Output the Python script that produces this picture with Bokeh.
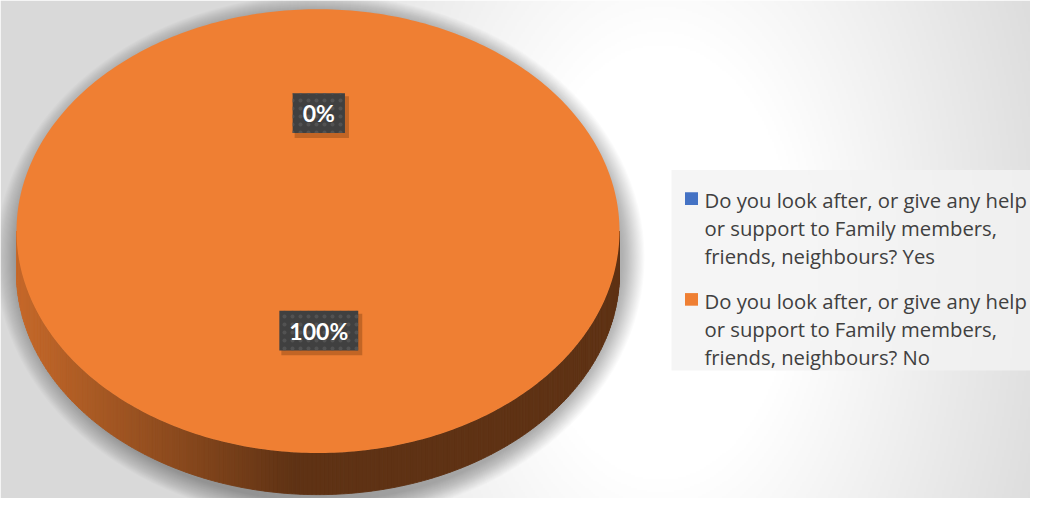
import numpy as np
from bokeh.plotting import figure
from bokeh.models import Range1d, ColumnDataSource
from bokeh.core.properties import value
from bokeh.embed import file_html
from bokeh.resources import INLINE

# ---------------- data ----------------
categories = [
    "Do you look after, or give any help\nor support to Family members,\nfriends, neighbours? Yes",
    "Do you look after, or give any help\nor support to Family members,\nfriends, neighbours? No",
]
values = [0, 100]
colors = ["#4472C4", "#EF7F33"]
pct_labels = ["0%", "100%"]

# ---------------- layout (reference pixel space, y down) ----------------
W, H = 1030, 514
def fy(y):
    return H - np.asarray(y, dtype=float)

CX, CY, RX, RY, DEPTH = 317.5, 238.0, 301.5, 229.0, 43.0

p = figure(width=1030, height=498, x_range=Range1d(0, W), y_range=Range1d(0, H),
           output_backend="svg", toolbar_location=None, min_border=0,
           x_axis_location=None, y_axis_location=None)
p.grid.visible = False
p.outline_line_color = None
p.background_fill_color = "white"
p.border_fill_color = "white"

# background radial gradient
nx, ny = 515, 257
xs = (np.arange(nx) + 0.5) * W / nx
ys_data = (np.arange(ny) + 0.5) * H / ny
XX, YY = np.meshgrid(xs, ys_data)
YREF = H - YY
d = np.sqrt((XX - 660) ** 2 + ((YREF - 270) * 0.6) ** 2)
g = 255 - 38 * np.clip((d - 135) / 300, 0, 1)
img = np.zeros((ny, nx), dtype=np.uint32)
view = img.view(dtype=np.uint8).reshape((ny, nx, 4))
gi = g.astype(np.uint8)
view[:, :, 0] = gi
view[:, :, 1] = gi
view[:, :, 2] = gi
view[:, :, 3] = 255
p.image_rgba(image=[img], x=0, y=0, dw=W, dh=H)

# soft shadow of the pie
for k in range(1, 22):
    p.ellipse(x=CX + 2, y=fy(CY + DEPTH / 2 + 6), width=2 * (RX + k * 1.1),
              height=2 * (RY + DEPTH / 2 + k * 1.0), fill_color="black",
              fill_alpha=0.014, line_color=None)

# slice angles (clockwise from 12 o'clock)
total = float(sum(values))
fracs = [v / total for v in values]
starts = np.cumsum([0] + fracs[:-1]) * 360.0
ends = starts + np.array(fracs) * 360.0

def hex2rgb(h):
    h = h.lstrip("#")
    return [int(h[i:i + 2], 16) for i in (0, 2, 4)]

def shade(hexc, m):
    r, gg, b = hex2rgb(hexc)
    return "#%02x%02x%02x" % tuple(int(max(0, min(255, c * m))) for c in (r, gg, b))

# rim (side wall) of each slice on the front half
rim_xs, rim_ys, rim_cols = [], [], []
for a0, a1, col in zip(starts, ends, colors):
    lo, hi = max(a0, 90.0), min(a1, 270.0)
    if hi <= lo:
        continue
    th = np.radians(np.linspace(lo, hi, 240))
    px = CX + RX * np.sin(th)
    py = CY - RY * np.cos(th)
    for i in range(len(th) - 1):
        x1, x2 = px[i], px[i + 1]
        y1, y2 = py[i], py[i + 1]
        xm = 0.5 * (x1 + x2)
        t = np.clip((xm - (CX - RX)) / ((CX - 25) - (CX - RX)), 0, 1)
        m = 0.83 - 0.43 * t
        rim_xs.append([x1, x2, x2, x1])
        rim_ys.append(list(fy([y1, y2, y2 + DEPTH, y1 + DEPTH])))
        rim_cols.append(shade(col, m))
p.patches(xs=rim_xs, ys=rim_ys, fill_color=rim_cols, line_color=rim_cols, line_width=0.9)

# top surface
for a0, a1, col in zip(starts, ends, colors):
    if a1 - a0 <= 0:
        continue
    th = np.radians(np.linspace(a0, a1, 400))
    px = np.concatenate([[CX], CX + RX * np.sin(th)])
    py = np.concatenate([[CY], CY - RY * np.cos(th)])
    p.patch(x=px, y=fy(py), fill_color=col, line_color=None)

# data labels
mids = np.radians((starts + ends) / 2.0)
lx = CX + 0.49 * RX * np.sin(mids) + 0.8
ly = CY - 0.49 * RY * np.cos(mids) - 9.5
bw = [20 + 13.3 * (len(s) - 1) + 19 for s in pct_labels]
bh = [41] * len(pct_labels)
lab = ColumnDataSource(dict(x=lx, y=fy(ly), w=bw, h=bh, t=pct_labels))
shadow1 = ColumnDataSource(dict(x=lx + 3, y=fy(ly + 4), w=np.array(bw) + 2, h=np.array(bh) + 2))
p.rect(x="x", y="y", width="w", height="h", source=shadow1, fill_color="#5a2a08",
       fill_alpha=0.3, line_color=None)
p.rect(x="x", y="y", width="w", height="h", source=lab, fill_color="#404040",
       line_color=None, hatch_pattern="dot", hatch_color="#525252", hatch_scale=8,
       hatch_weight=1.6)
p.text(x="x", y="y", text="t", source=lab, text_color="white", text_font=value("Lato"),
       text_font_style="bold", text_font_size="23px", text_align="center",
       text_baseline="middle")

# legend
LEG_L, LEG_T, LEG_B = 671, 175, 382
p.quad(left=LEG_L, right=W + 10, top=fy(LEG_T), bottom=fy(LEG_B),
       fill_color="#f3f3f3", fill_alpha=0.8, line_color=None)
first_base = [206, 310]
sq_x = [691] * len(categories)
sq_y = [fy(b - 1.5) for b in first_base]
p.rect(x=sq_x, y=sq_y, width=13, height=13, fill_color=colors, line_color=None)
tx, ty, tt = [], [], []
for b, lbl in zip(first_base, categories):
    for i, line in enumerate(lbl.split("\n")):
        tx.append(704)
        ty.append(float(fy(b + 29 * i)))
        tt.append(line)
p.text(x=tx, y=ty, text=tt, text_color="#404040", text_font=value("Open Sans"),
       text_font_size="20.3px", text_align="left", text_baseline="alphabetic")

open("out.html", "w").write(file_html(p, INLINE))
